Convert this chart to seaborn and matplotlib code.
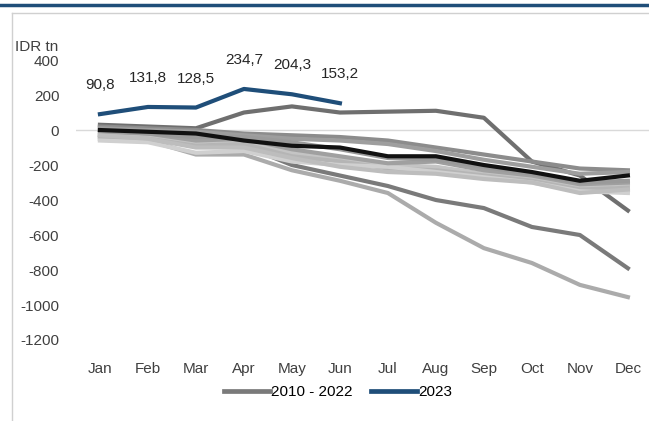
import matplotlib
matplotlib.use("Agg")
import matplotlib.pyplot as plt
import numpy as np
import pandas as pd
import seaborn as sns
from matplotlib.lines import Line2D

months = ["Jan", "Feb", "Mar", "Apr", "May", "Jun", "Jul", "Aug", "Sep", "Oct", "Nov", "Dec"]

# past years, IDR tn
hist = {
    "h01": [30, 20, 10, 100, 135, 100, 105, 110, 70, -180, -260, -460],
    "h02": [-30, -40, -80, -90, -200, -260, -320, -400, -446, -554, -600, -790],
    "h03": [-50, -60, -140, -140, -230, -290, -360, -530, -675, -760, -885, -955],
    "h04": [20, 10, 0, -20, -30, -40, -60, -100, -140, -180, -220, -230],
    "h05": [10, 0, -10, -30, -50, -60, -80, -120, -170, -210, -250, -240],
    "h06": [-20, -30, -70, -60, -130, -170, -200, -210, -250, -270, -320, -310],
    "h07": [-40, -50, -90, -80, -150, -180, -220, -230, -260, -290, -340, -330],
    "h08": [-60, -70, -130, -120, -180, -200, -210, -240, -270, -300, -350, -360],
    "h09": [-10, -20, -60, -50, -110, -150, -190, -180, -230, -260, -310, -300],
    "h10": [-30, -50, -100, -100, -160, -210, -240, -250, -280, -300, -360, -340],
    "h11": [0, -20, -40, -40, -70, -110, -160, -170, -210, -250, -300, -290],
    "h12": [0, -10, -20, -60, -90, -100, -150, -150, -200, -240, -290, -260],
}
hist_colors = ["#6f6f6f", "#7a7a7a", "#ababab", "#8c8c8c", "#9e9e9e", "#c4c4c4",
               "#b5b5b5", "#d0d0d0", "#a0a0a0", "#bdbdbd", "#9a9a9a", "#111111"]

months_2023 = months[:6]
values_2023 = [90.8, 131.8, 128.5, 234.7, 204.3, 153.2]

rows = []
for name, vals in hist.items():
    for m, v in zip(months, vals):
        rows.append({"month": m, "value": v, "series": name})
df = pd.DataFrame(rows)
df_2023 = pd.DataFrame({"month": months_2023, "value": values_2023})

plt.rcParams["font.family"] = ["Liberation Sans", "DejaVu Sans"]
plt.rcParams["axes.unicode_minus"] = False

fig = plt.figure(figsize=(6.49, 4.21), dpi=100)
ax = fig.add_axes([0.117, 0.1924, 0.883, 0.665])

ax.axhline(0, color="#d9d9d9", lw=1, zorder=1)

sns.lineplot(data=df, x="month", y="value", hue="series", palette=hist_colors,
             linewidth=3.0, legend=False, sort=False, ax=ax, zorder=2)
sns.lineplot(data=df_2023, x="month", y="value", color="#1F4E79",
             linewidth=3.0, legend=False, sort=False, ax=ax, zorder=3)

for m, v in zip(months_2023, values_2023):
    ax.annotate(f"{v:.1f}".replace(".", ","), (months.index(m), v),
                xytext=(0, 18), textcoords="offset points", ha="center",
                fontsize=11, color="#262626")

ax.set_xlim(-0.5, 11.44)
ax.set_ylim(-1200, 400)
ax.set_yticks(np.arange(-1200, 401, 200))
ax.set_xlabel("")
ax.set_ylabel("")
for s in ax.spines.values():
    s.set_visible(False)
ax.tick_params(length=0, labelsize=11, colors="#404040")
ax.tick_params(axis="x", pad=16)
ax.tick_params(axis="y", pad=12)
ax.grid(False)

fig.text(15 / 649, 1 - 47 / 421, "IDR tn", fontsize=11, color="#404040", va="center")

handles = [Line2D([], [], color="#7a7a7a", lw=3.4), Line2D([], [], color="#1F4E79", lw=3.4)]
fig.legend(handles, ["2010 - 2022", "2023"], loc="center", bbox_to_anchor=(338 / 649, 1 - 392 / 421),
           ncol=2, frameon=False, fontsize=11, handlelength=3, handletextpad=0.1,
           columnspacing=1.2)

# frame lines
fig.add_artist(Line2D([0, 1], [1 - 5 / 421, 1 - 5 / 421], color="#1F4E79", lw=2.5))
fig.add_artist(Line2D([12 / 649, 1], [1 - 13 / 421, 1 - 13 / 421], color="#d0d0d0", lw=1))
fig.add_artist(Line2D([12 / 649, 12 / 649], [0, 1 - 13 / 421], color="#d0d0d0", lw=1))

fig.savefig("out.png", dpi=100)
